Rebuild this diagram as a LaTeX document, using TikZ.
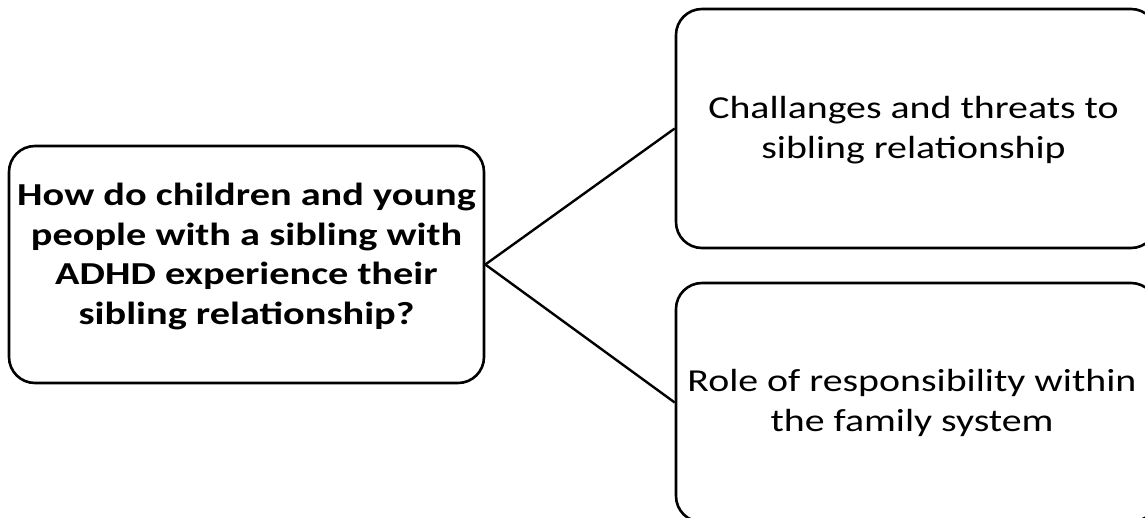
\documentclass[tikz,border=0pt]{standalone}
\usepackage{fontspec}
\setmainfont{Carlito}
% wide text block: centred lines, stretched horizontally
\newcommand{\widetext}[3]{\scalebox{#1}[1]{\parbox{420pt}{\centering#2#3}}}
\begin{document}
\begin{tikzpicture}[x=1pt,y=-1pt,
  box/.style={draw=black,line width=2.6pt,rounded corners=26pt,fill=white,
    inner sep=0pt,anchor=center},
  txt/.style={inner sep=0pt},
  link/.style={draw=black,line width=2.4pt}]
\useasboundingbox[fill=white] (0,0) rectangle (1145,517);
% research question
\node[box,minimum width=475pt,minimum height=237pt] (q) at (246.5,264.5) {};
\node[txt] (qt) at (246.5,256.5) {\widetext{1.26}{\fontsize{32}{39.5}\selectfont\bfseries}{How do children and young\\people with a sibling with\\ADHD experience their\\sibling relationship?}};
% themes
\node[box,minimum width=481pt,minimum height=239pt] (t1) at (916.5,128.5) {};
\node[txt] (t1t) at (913.5,130) {\widetext{1.245}{\fontsize{32}{40}\selectfont}{Challanges and threats to\\sibling relationship}};
\node[box,minimum width=481pt,minimum height=239pt] (t2) at (916.5,402.5) {};
\node[txt] (t2t) at (912,403) {\widetext{1.245}{\fontsize{32}{40}\selectfont}{Role of responsibility within\\the family system}};
% connectors
\draw[link] (q.east) -- (t1.west);
\draw[link] (q.east) -- (t2.west);
\end{tikzpicture}
\end{document}
